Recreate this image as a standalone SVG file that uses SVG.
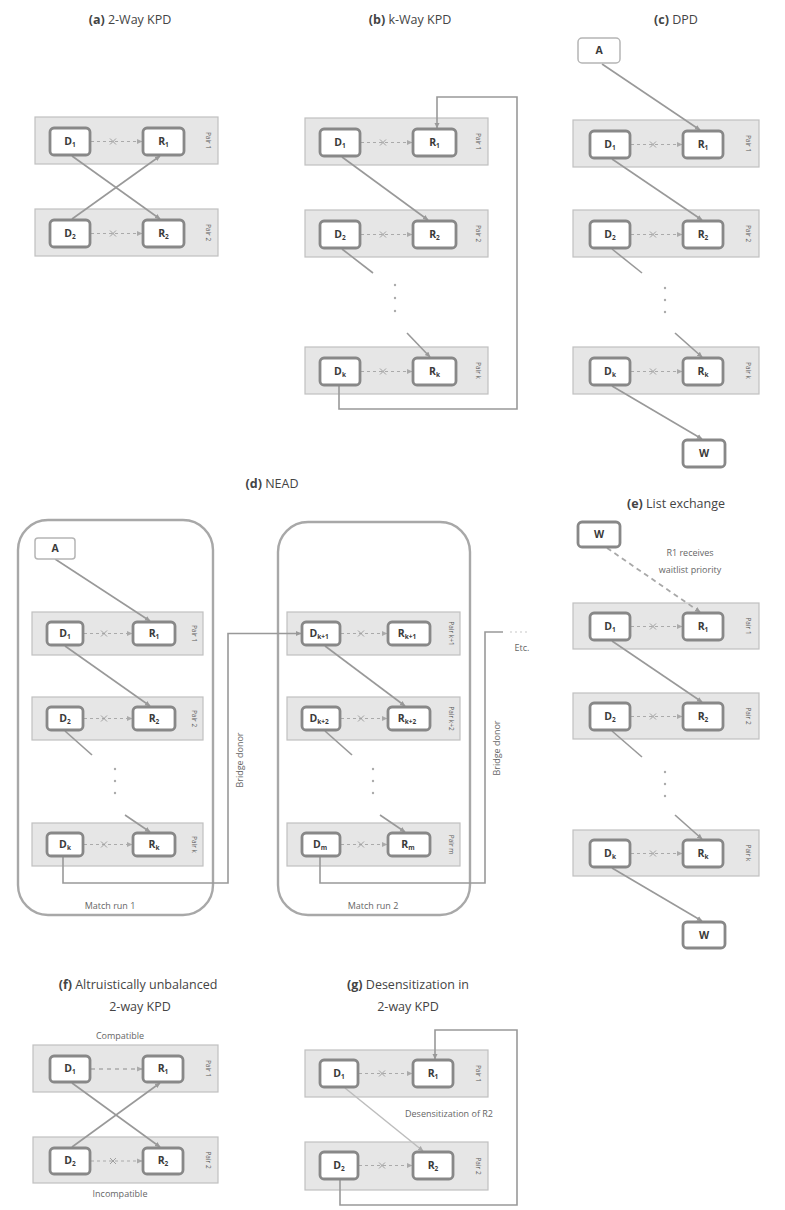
<svg xmlns="http://www.w3.org/2000/svg" width="785" height="1210" viewBox="0 0 785 1210">
<defs>
<marker id="ah" markerWidth="6" markerHeight="6" refX="5" refY="3" orient="auto" markerUnits="userSpaceOnUse"><path d="M0,0.5 L5.5,3 L0,5.5 z" fill="#999"/></marker>
<marker id="ahl" markerWidth="6" markerHeight="6" refX="5" refY="3" orient="auto" markerUnits="userSpaceOnUse"><path d="M0,0.5 L5.5,3 L0,5.5 z" fill="#aaa"/></marker>
</defs>
<style>
text{font-family:"Open Sans","Liberation Sans",Arial,sans-serif;fill:#444}
.t{font-size:12.5px;text-anchor:middle}
.tb{font-weight:bold}
.pair{fill:#e6e6e6;stroke:#c0c0c0;stroke-width:1.2}
.nd{fill:#fff;stroke:#888;stroke-width:2.8}
.ndl{fill:#fff;stroke:#b5b5b5;stroke-width:1.5}
.nl{font-size:10.5px;font-weight:bold;text-anchor:middle;fill:#3a3a3a}
.sb{font-size:6.5px}
.pl{font-size:6.5px;text-anchor:middle;fill:#5a5a5a}
.c{fill:none;stroke:#999;stroke-width:1.6}
.cl{fill:none;stroke:#bdbdbd;stroke-width:1.5}
.dsh{fill:none;stroke:#aaa;stroke-width:1.2;stroke-dasharray:3,3}
.x{stroke:#a0a0a0;stroke-width:1}
.run{fill:none;stroke:#a8a8a8;stroke-width:2.4}
.lb{font-size:9px;fill:#666;text-anchor:middle}
.dot{fill:#aaa}
</style>

<!-- Titles -->
<g id="titles">
<text class="t" x="130" y="24"><tspan class="tb">(a)</tspan> 2-Way KPD</text>
<text class="t" x="410" y="24"><tspan class="tb">(b)</tspan> k-Way KPD</text>
<text class="t" x="676" y="24"><tspan class="tb">(c)</tspan>  DPD</text>
<text class="t" x="272" y="488"><tspan class="tb">(d)</tspan>  NEAD</text>
<text class="t" x="676" y="508"><tspan class="tb">(e)</tspan>  List exchange</text>
<text class="t" x="138" y="989"><tspan class="tb">(f)</tspan> Altruistically unbalanced</text>
<text class="t" x="140" y="1011">2-way KPD</text>
<text class="t" x="408" y="989"><tspan class="tb">(g)</tspan> Desensitization in</text>
<text class="t" x="408" y="1011">2-way KPD</text>
</g>

<!-- Match run containers -->
<g id="run1"><rect class="run" x="18" y="520" width="195" height="395" rx="30"/><text class="lb" x="110" y="909">Match run 1</text></g>
<g id="run2"><rect class="run" x="278" y="522" width="192" height="393" rx="30"/><text class="lb" x="373" y="909">Match run 2</text></g>

<!-- Pair boxes -->
<g id="pairs">
<g id="a-p1"><rect class="pair" x="35" y="117" width="183" height="47"/><text class="pl" transform="translate(206,140.5) rotate(90)">Pair 1</text></g>
<g id="a-p2"><rect class="pair" x="35" y="209" width="183" height="47"/><text class="pl" transform="translate(206,232.5) rotate(90)">Pair 2</text></g>
<g id="b-p1"><rect class="pair" x="305" y="118" width="183" height="47"/><text class="pl" transform="translate(476,141.5) rotate(90)">Pair 1</text></g>
<g id="b-p2"><rect class="pair" x="305" y="210" width="183" height="47"/><text class="pl" transform="translate(476,233.5) rotate(90)">Pair 2</text></g>
<g id="b-pk"><rect class="pair" x="305" y="347" width="183" height="47"/><text class="pl" transform="translate(476,370.5) rotate(90)">Pair k</text></g>
<g id="c-p1"><rect class="pair" x="573" y="120" width="186" height="47"/><text class="pl" transform="translate(746,143.5) rotate(90)">Pair 1</text></g>
<g id="c-p2"><rect class="pair" x="573" y="210" width="186" height="47"/><text class="pl" transform="translate(746,233.5) rotate(90)">Pair 2</text></g>
<g id="c-pk"><rect class="pair" x="573" y="347" width="186" height="47"/><text class="pl" transform="translate(746,370.5) rotate(90)">Pair k</text></g>
<g id="d-p1"><rect class="pair" x="32" y="612" width="171" height="43"/><text class="pl" transform="translate(192,633.5) rotate(90)">Pair 1</text></g>
<g id="d-p2"><rect class="pair" x="32" y="697" width="171" height="43"/><text class="pl" transform="translate(192,718.5) rotate(90)">Pair 2</text></g>
<g id="d-pk"><rect class="pair" x="32" y="823" width="171" height="43"/><text class="pl" transform="translate(192,844.5) rotate(90)">Pair k</text></g>
<g id="d-pk1"><rect class="pair" x="287" y="612" width="173" height="43"/><text class="pl" transform="translate(449,633.5) rotate(90)">Pair k+1</text></g>
<g id="d-pk2"><rect class="pair" x="287" y="697" width="173" height="43"/><text class="pl" transform="translate(449,718.5) rotate(90)">Pair k+2</text></g>
<g id="d-pm"><rect class="pair" x="287" y="823" width="173" height="43"/><text class="pl" transform="translate(449,844.5) rotate(90)">Pair m</text></g>
<g id="e-p1"><rect class="pair" x="573" y="603" width="186" height="46"/><text class="pl" transform="translate(746,626) rotate(90)">Pair 1</text></g>
<g id="e-p2"><rect class="pair" x="573" y="693" width="186" height="46"/><text class="pl" transform="translate(746,716) rotate(90)">Pair 2</text></g>
<g id="e-pk"><rect class="pair" x="573" y="830" width="186" height="46"/><text class="pl" transform="translate(746,853) rotate(90)">Pair k</text></g>
<g id="f-p1"><rect class="pair" x="33" y="1045" width="185" height="47"/><text class="pl" transform="translate(206,1068.5) rotate(90)">Pair 1</text></g>
<g id="f-p2"><rect class="pair" x="33" y="1137" width="185" height="46"/><text class="pl" transform="translate(206,1160) rotate(90)">Pair 2</text></g>
<g id="g-p1"><rect class="pair" x="305" y="1050" width="183" height="47"/><text class="pl" transform="translate(476,1073.5) rotate(90)">Pair 1</text></g>
<g id="g-p2"><rect class="pair" x="305" y="1142" width="183" height="48"/><text class="pl" transform="translate(476,1166) rotate(90)">Pair 2</text></g>
</g>

<!-- Connectors -->
<g id="connectors">
<!-- (a) -->
<line class="dsh" x1="91" y1="141.5" x2="142" y2="141.5" marker-end="url(#ahl)"/>
<line class="dsh" x1="91" y1="233.5" x2="142" y2="233.5" marker-end="url(#ahl)"/>
<line class="c" x1="72" y1="156" x2="160" y2="219" marker-end="url(#ah)"/>
<line class="c" x1="72" y1="219" x2="160" y2="156" marker-end="url(#ah)"/>
<!-- (b) -->
<line class="dsh" x1="361" y1="142.5" x2="412" y2="142.5" marker-end="url(#ahl)"/>
<line class="dsh" x1="361" y1="234.5" x2="412" y2="234.5" marker-end="url(#ahl)"/>
<line class="dsh" x1="361" y1="371.5" x2="412" y2="371.5" marker-end="url(#ahl)"/>
<polyline class="c" points="339,385 339,409 517,409 517,97 437,97 437,128" marker-end="url(#ah)"/>
<line class="c" x1="342" y1="157" x2="428" y2="220" marker-end="url(#ah)"/>
<line class="c" x1="342" y1="249" x2="373" y2="273"/>
<line class="c" x1="407" y1="333" x2="430" y2="357" marker-end="url(#ah)"/>
<!-- (c) -->
<line class="dsh" x1="631" y1="144.5" x2="682" y2="144.5" marker-end="url(#ahl)"/>
<line class="dsh" x1="631" y1="234.5" x2="682" y2="234.5" marker-end="url(#ahl)"/>
<line class="dsh" x1="631" y1="371.5" x2="682" y2="371.5" marker-end="url(#ahl)"/>
<line class="c" x1="602" y1="64" x2="700" y2="130" marker-end="url(#ah)"/>
<line class="c" x1="612" y1="159" x2="702" y2="220" marker-end="url(#ah)"/>
<line class="c" x1="612" y1="249" x2="642" y2="273"/>
<line class="c" x1="675" y1="333" x2="702" y2="357" marker-end="url(#ah)"/>
<line class="c" x1="612" y1="386" x2="702" y2="439" marker-end="url(#ah)"/>
<!-- (d) -->
<line class="dsh" x1="84" y1="633.5" x2="132" y2="633.5" marker-end="url(#ahl)"/>
<line class="dsh" x1="84" y1="718.5" x2="132" y2="718.5" marker-end="url(#ahl)"/>
<line class="dsh" x1="84" y1="844.5" x2="132" y2="844.5" marker-end="url(#ahl)"/>
<line class="c" x1="55" y1="559" x2="150" y2="621" marker-end="url(#ah)"/>
<line class="c" x1="65" y1="646" x2="150" y2="706" marker-end="url(#ah)"/>
<line class="c" x1="65" y1="731" x2="92" y2="755"/>
<line class="c" x1="125" y1="815" x2="150" y2="832" marker-end="url(#ah)"/>
<polyline class="c" points="63,857 63,883 228,883 228,633.5 301,633.5" marker-end="url(#ah)"/>
<line class="dsh" x1="341" y1="633.5" x2="387" y2="633.5" marker-end="url(#ahl)"/>
<line class="dsh" x1="341" y1="718.5" x2="387" y2="718.5" marker-end="url(#ahl)"/>
<line class="dsh" x1="341" y1="844.5" x2="387" y2="844.5" marker-end="url(#ahl)"/>
<line class="c" x1="325" y1="646" x2="405" y2="706" marker-end="url(#ah)"/>
<line class="c" x1="325" y1="731" x2="352" y2="755"/>
<line class="c" x1="380" y1="815" x2="405" y2="832" marker-end="url(#ah)"/>
<polyline class="c" points="320,857 320,883 485,883 485,632 503,632"/>
<line x1="510" y1="632" x2="528" y2="632" stroke="#c8c8c8" stroke-width="1.2" stroke-dasharray="2,3"/>
<!-- (e) -->
<line class="dsh" x1="631" y1="626.5" x2="682" y2="626.5" marker-end="url(#ahl)"/>
<line class="dsh" x1="631" y1="716.5" x2="682" y2="716.5" marker-end="url(#ahl)"/>
<line class="dsh" x1="631" y1="853.5" x2="682" y2="853.5" marker-end="url(#ahl)"/>
<line x1="607" y1="548" x2="700" y2="612" stroke="#a8a8a8" stroke-width="1.8" stroke-dasharray="5,4" marker-end="url(#ah)"/>
<line class="c" x1="612" y1="641" x2="702" y2="702" marker-end="url(#ah)"/>
<line class="c" x1="612" y1="731" x2="642" y2="757"/>
<line class="c" x1="675" y1="815" x2="702" y2="839" marker-end="url(#ah)"/>
<line class="c" x1="612" y1="868" x2="702" y2="921" marker-end="url(#ah)"/>
<!-- (f) -->
<line x1="91" y1="1069" x2="142" y2="1069" stroke="#aaa" stroke-width="1.4" stroke-dasharray="4,4" marker-end="url(#ahl)"/>
<line class="dsh" x1="91" y1="1161" x2="142" y2="1161" marker-end="url(#ahl)"/>
<line class="c" x1="72" y1="1083" x2="160" y2="1147" marker-end="url(#ah)"/>
<line class="c" x1="72" y1="1147" x2="160" y2="1083" marker-end="url(#ah)"/>
<!-- (g) -->
<line class="dsh" x1="359" y1="1073.5" x2="412" y2="1073.5" marker-end="url(#ahl)"/>
<line class="dsh" x1="359" y1="1165.5" x2="412" y2="1165.5" marker-end="url(#ahl)"/>
<polyline class="c" points="340,1180 340,1205 517,1205 517,1030 435,1030 435,1059" marker-end="url(#ah)"/>
<line class="cl" x1="345" y1="1088" x2="423" y2="1151" marker-end="url(#ahl)"/>
</g>

<!-- X marks on incompatible links -->
<g id="xmarks" class="x">
<path class="x" d="M110,138.5 l6,6 M116,138.5 l-6,6 M110,230.5 l6,6 M116,230.5 l-6,6"/>
<path class="x" d="M380,139.5 l6,6 M386,139.5 l-6,6 M380,231.5 l6,6 M386,231.5 l-6,6 M380,368.5 l6,6 M386,368.5 l-6,6"/>
<path class="x" d="M650,141.5 l6,6 M656,141.5 l-6,6 M650,231.5 l6,6 M656,231.5 l-6,6 M650,368.5 l6,6 M656,368.5 l-6,6"/>
<path class="x" d="M101,630.5 l6,6 M107,630.5 l-6,6 M101,715.5 l6,6 M107,715.5 l-6,6 M101,841.5 l6,6 M107,841.5 l-6,6"/>
<path class="x" d="M358,630.5 l6,6 M364,630.5 l-6,6 M358,715.5 l6,6 M364,715.5 l-6,6 M358,841.5 l6,6 M364,841.5 l-6,6"/>
<path class="x" d="M650,623.5 l6,6 M656,623.5 l-6,6 M650,713.5 l6,6 M656,713.5 l-6,6 M650,850.5 l6,6 M656,850.5 l-6,6"/>
<path class="x" d="M110,1158 l6,6 M116,1158 l-6,6"/>
<path class="x" d="M379,1070.5 l6,6 M385,1070.5 l-6,6 M379,1162.5 l6,6 M385,1162.5 l-6,6"/>
</g>

<!-- Ellipsis dots -->
<g id="ellipses">
<circle class="dot" cx="395" cy="285" r="1.2"/><circle class="dot" cx="395" cy="298" r="1.2"/><circle class="dot" cx="395" cy="311" r="1.2"/>
<circle class="dot" cx="665" cy="288" r="1.2"/><circle class="dot" cx="665" cy="300" r="1.2"/><circle class="dot" cx="665" cy="312" r="1.2"/>
<circle class="dot" cx="115" cy="769" r="1.2"/><circle class="dot" cx="115" cy="781" r="1.2"/><circle class="dot" cx="115" cy="793" r="1.2"/>
<circle class="dot" cx="373" cy="769" r="1.2"/><circle class="dot" cx="373" cy="781" r="1.2"/><circle class="dot" cx="373" cy="793" r="1.2"/>
<circle class="dot" cx="665" cy="772" r="1.2"/><circle class="dot" cx="665" cy="784" r="1.2"/><circle class="dot" cx="665" cy="796" r="1.2"/>
</g>

<!-- Labels -->
<g id="labels">
<text class="lb" transform="translate(243,760) rotate(-90)">Bridge donor</text>
<text class="lb" transform="translate(500,748) rotate(-90)">Bridge donor</text>
<text class="lb" x="522" y="651">Etc.</text>
<text class="lb" x="690" y="556">R1 receives</text>
<text class="lb" x="690" y="573">waitlist priority</text>
<text class="lb" x="120" y="1039">Compatible</text>
<text class="lb" x="120" y="1197">Incompatible</text>
<text class="lb" x="449" y="1117">Desensitization of R2</text>
</g>

<!-- Nodes (a) -->
<g id="a-D1"><rect class="nd" x="50" y="128" width="40" height="27" rx="4"/><text class="nl" x="70" y="145">D<tspan class="sb" dy="2">1</tspan></text></g>
<g id="a-R1"><rect class="nd" x="143" y="128" width="41" height="27" rx="4"/><text class="nl" x="163.5" y="145">R<tspan class="sb" dy="2">1</tspan></text></g>
<g id="a-D2"><rect class="nd" x="50" y="220" width="40" height="27" rx="4"/><text class="nl" x="70" y="237">D<tspan class="sb" dy="2">2</tspan></text></g>
<g id="a-R2"><rect class="nd" x="143" y="220" width="41" height="27" rx="4"/><text class="nl" x="163.5" y="237">R<tspan class="sb" dy="2">2</tspan></text></g>
<!-- (b) -->
<g id="b-D1"><rect class="nd" x="320" y="129" width="40" height="27" rx="4"/><text class="nl" x="340" y="146">D<tspan class="sb" dy="2">1</tspan></text></g>
<g id="b-R1"><rect class="nd" x="413" y="129" width="43" height="27" rx="4"/><text class="nl" x="434.5" y="146">R<tspan class="sb" dy="2">1</tspan></text></g>
<g id="b-D2"><rect class="nd" x="320" y="221" width="40" height="27" rx="4"/><text class="nl" x="340" y="238">D<tspan class="sb" dy="2">2</tspan></text></g>
<g id="b-R2"><rect class="nd" x="413" y="221" width="43" height="27" rx="4"/><text class="nl" x="434.5" y="238">R<tspan class="sb" dy="2">2</tspan></text></g>
<g id="b-Dk"><rect class="nd" x="320" y="358" width="40" height="27" rx="4"/><text class="nl" x="340" y="375">D<tspan class="sb" dy="2">k</tspan></text></g>
<g id="b-Rk"><rect class="nd" x="413" y="358" width="43" height="27" rx="4"/><text class="nl" x="434.5" y="375">R<tspan class="sb" dy="2">k</tspan></text></g>
<!-- (c) -->
<g id="c-A"><rect class="ndl" x="578" y="38" width="42" height="25" rx="4"/><text class="nl" x="599" y="54">A</text></g>
<g id="c-D1"><rect class="nd" x="590" y="131" width="40" height="27" rx="4"/><text class="nl" x="610" y="148">D<tspan class="sb" dy="2">1</tspan></text></g>
<g id="c-R1"><rect class="nd" x="683" y="131" width="40" height="27" rx="4"/><text class="nl" x="703" y="148">R<tspan class="sb" dy="2">1</tspan></text></g>
<g id="c-D2"><rect class="nd" x="590" y="221" width="40" height="27" rx="4"/><text class="nl" x="610" y="238">D<tspan class="sb" dy="2">2</tspan></text></g>
<g id="c-R2"><rect class="nd" x="683" y="221" width="40" height="27" rx="4"/><text class="nl" x="703" y="238">R<tspan class="sb" dy="2">2</tspan></text></g>
<g id="c-Dk"><rect class="nd" x="590" y="358" width="40" height="27" rx="4"/><text class="nl" x="610" y="375">D<tspan class="sb" dy="2">k</tspan></text></g>
<g id="c-Rk"><rect class="nd" x="683" y="358" width="40" height="27" rx="4"/><text class="nl" x="703" y="375">R<tspan class="sb" dy="2">k</tspan></text></g>
<g id="c-W"><rect class="nd" x="683" y="440" width="42" height="27" rx="4"/><text class="nl" x="704" y="457">W</text></g>
<!-- (d) run 1 -->
<g id="d-A"><rect class="ndl" x="35" y="538" width="40" height="21" rx="3"/><text class="nl" x="55" y="552">A</text></g>
<g id="d-D1"><rect class="nd" x="47" y="622" width="36" height="23" rx="4"/><text class="nl" x="65" y="637">D<tspan class="sb" dy="2">1</tspan></text></g>
<g id="d-R1"><rect class="nd" x="133" y="622" width="42" height="23" rx="4"/><text class="nl" x="154" y="637">R<tspan class="sb" dy="2">1</tspan></text></g>
<g id="d-D2"><rect class="nd" x="47" y="707" width="36" height="23" rx="4"/><text class="nl" x="65" y="722">D<tspan class="sb" dy="2">2</tspan></text></g>
<g id="d-R2"><rect class="nd" x="133" y="707" width="42" height="23" rx="4"/><text class="nl" x="154" y="722">R<tspan class="sb" dy="2">2</tspan></text></g>
<g id="d-Dk"><rect class="nd" x="47" y="833" width="36" height="23" rx="4"/><text class="nl" x="65" y="848">D<tspan class="sb" dy="2">k</tspan></text></g>
<g id="d-Rk"><rect class="nd" x="133" y="833" width="42" height="23" rx="4"/><text class="nl" x="154" y="848">R<tspan class="sb" dy="2">k</tspan></text></g>
<!-- (d) run 2 -->
<g id="d-Dk1"><rect class="nd" x="302" y="622" width="38" height="23" rx="4"/><text class="nl" x="319" y="637">D<tspan class="sb" dy="2">k+1</tspan></text></g>
<g id="d-Rk1"><rect class="nd" x="388" y="622" width="42" height="23" rx="4"/><text class="nl" x="407" y="637">R<tspan class="sb" dy="2">k+1</tspan></text></g>
<g id="d-Dk2"><rect class="nd" x="302" y="707" width="38" height="23" rx="4"/><text class="nl" x="319" y="722">D<tspan class="sb" dy="2">k+2</tspan></text></g>
<g id="d-Rk2"><rect class="nd" x="388" y="707" width="42" height="23" rx="4"/><text class="nl" x="407" y="722">R<tspan class="sb" dy="2">k+2</tspan></text></g>
<g id="d-Dm"><rect class="nd" x="302" y="833" width="38" height="23" rx="4"/><text class="nl" x="320" y="848">D<tspan class="sb" dy="2">m</tspan></text></g>
<g id="d-Rm"><rect class="nd" x="388" y="833" width="42" height="23" rx="4"/><text class="nl" x="408" y="848">R<tspan class="sb" dy="2">m</tspan></text></g>
<!-- (e) -->
<g id="e-W1"><rect class="nd" x="578" y="522" width="42" height="25" rx="4"/><text class="nl" x="599" y="538">W</text></g>
<g id="e-D1"><rect class="nd" x="590" y="613" width="40" height="27" rx="4"/><text class="nl" x="610" y="630">D<tspan class="sb" dy="2">1</tspan></text></g>
<g id="e-R1"><rect class="nd" x="683" y="613" width="40" height="27" rx="4"/><text class="nl" x="703" y="630">R<tspan class="sb" dy="2">1</tspan></text></g>
<g id="e-D2"><rect class="nd" x="590" y="703" width="40" height="27" rx="4"/><text class="nl" x="610" y="720">D<tspan class="sb" dy="2">2</tspan></text></g>
<g id="e-R2"><rect class="nd" x="683" y="703" width="40" height="27" rx="4"/><text class="nl" x="703" y="720">R<tspan class="sb" dy="2">2</tspan></text></g>
<g id="e-Dk"><rect class="nd" x="590" y="840" width="40" height="27" rx="4"/><text class="nl" x="610" y="857">D<tspan class="sb" dy="2">k</tspan></text></g>
<g id="e-Rk"><rect class="nd" x="683" y="840" width="40" height="27" rx="4"/><text class="nl" x="703" y="857">R<tspan class="sb" dy="2">k</tspan></text></g>
<g id="e-W2"><rect class="nd" x="683" y="922" width="42" height="26" rx="4"/><text class="nl" x="704" y="939">W</text></g>
<!-- (f) -->
<g id="f-D1"><rect class="nd" x="50" y="1056" width="40" height="26" rx="4"/><text class="nl" x="70" y="1072">D<tspan class="sb" dy="2">1</tspan></text></g>
<g id="f-R1"><rect class="nd" x="143" y="1056" width="40" height="26" rx="4"/><text class="nl" x="163" y="1072">R<tspan class="sb" dy="2">1</tspan></text></g>
<g id="f-D2"><rect class="nd" x="50" y="1148" width="40" height="26" rx="4"/><text class="nl" x="70" y="1164">D<tspan class="sb" dy="2">2</tspan></text></g>
<g id="f-R2"><rect class="nd" x="143" y="1148" width="40" height="26" rx="4"/><text class="nl" x="163" y="1164">R<tspan class="sb" dy="2">2</tspan></text></g>
<!-- (g) -->
<g id="g-D1"><rect class="nd" x="320" y="1060" width="38" height="27" rx="4"/><text class="nl" x="339" y="1077">D<tspan class="sb" dy="2">1</tspan></text></g>
<g id="g-R1"><rect class="nd" x="413" y="1060" width="40" height="27" rx="4"/><text class="nl" x="433" y="1077">R<tspan class="sb" dy="2">1</tspan></text></g>
<g id="g-D2"><rect class="nd" x="320" y="1152" width="38" height="27" rx="4"/><text class="nl" x="339" y="1169">D<tspan class="sb" dy="2">2</tspan></text></g>
<g id="g-R2"><rect class="nd" x="413" y="1152" width="40" height="27" rx="4"/><text class="nl" x="433" y="1169">R<tspan class="sb" dy="2">2</tspan></text></g>
</svg>
